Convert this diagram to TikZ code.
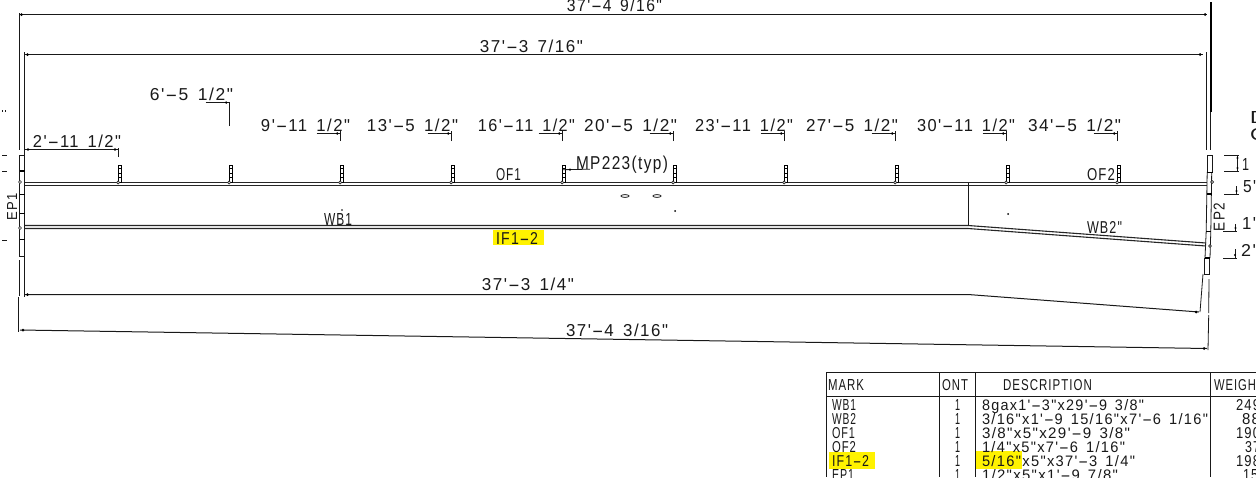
\documentclass[tikz,border=0pt]{standalone}
\usepackage{fontspec}
\usepackage{graphicx}
\newfontfamily\cad[LetterSpace=9]{Liberation Sans}
\newcommand{\hy}{\kern0.05em\scalebox{2.1}[1]{-}\kern0.05em}
\newcommand{\gp}{\hspace{0.55em}}
\tikzset{
  x=1pt,y=-1pt,
  ink/.style={draw=black!90,line width=0.8pt},
  heavy/.style={draw=black,line width=2pt},
  dimline/.style={draw=black!90,line width=1pt},
  member/.style={draw=black!85,line width=1.1pt},
  tabline/.style={draw=black!90,line width=0.85pt},
  txt/.style={inner sep=0pt,outer sep=0pt,anchor=base,text=black!90},
  hilite/.style={fill=yellow,draw=none},
  dotm/.style={fill=black,draw=none},
  ringm/.style={draw=black!85,line width=0.7pt,fill=white},
}
% \lbl{name}{x1}{x2}{y centre}{height}{text}
\newcommand{\lbl}[6]{%
  \pgfmathsetmacro{\lw}{#3-(#2)}\pgfmathsetmacro{\lx}{(#2+#3)/2}\pgfmathsetmacro{\ly}{#4+#5/2}%
  \node[txt] (#1) at (\lx,\ly) {\resizebox{\lw pt}{#5pt}{\cad #6}};}
\begin{document}
\begin{tikzpicture}
\useasboundingbox (0,0) rectangle (1256,477);
\clip (0,0) rectangle (1256,477);
\fill[white] (0,0) rectangle (1256,477);
% key coordinates
\coordinate (tl) at (19.5,14.5); \coordinate (tr) at (1207,14.5);
\coordinate (sl) at (24.5,54.5); \coordinate (sr) at (1203,54.5);
\coordinate (il) at (24.5,294.5); \coordinate (ik) at (968,294.5); \coordinate (ir) at (1199,312);
\coordinate (bl) at (20,330); \coordinate (br) at (1207,348.5);
% highlights
\fill[hilite] (493,229.5) rectangle (544,244.5);
\fill[hilite] (829,452) rectangle (875,469);
\fill[hilite] (976,451) rectangle (1022,469);
% overall dimension lines
\draw[dimline] (tl) -- (tr);
\draw[dimline] (sl) -- (sr);
\draw[dimline] (il) -- (ik) -- (ir);
\draw[dimline] (bl) -- (br);
\foreach \p/\dx in {tl/2,tr/-2,sl/3,sr/-3,il/3,ir/-3,bl/3,br/-3}{\fill[dotm] ([xshift=\dx pt]\p) circle (1.5);}
% extension lines, left
\draw[ink] (19.5,13) -- (19.5,150);
\draw[ink] (24.5,52) -- (24.5,297);
\draw[ink] (19.5,260) -- (19.5,296);
\draw[ink] (18.5,297) -- (18.5,332);
% extension lines, right
\draw[heavy] (1210.5,2) -- (1210.5,112);
\draw[ink] (1210.5,112) -- (1210.5,150);
\draw[ink] (1206.5,52) -- (1206.5,150);
\draw[ink] (1209,279) -- (1208.7,313);
\draw[ink] (1208.7,315) -- (1208,350);
\draw[ink] (1203,274) -- (1200,312);
% left end plate
\draw[ink] (19.5,155) rectangle (24.5,256);
\foreach \y/\w in {171/1.8,194/0.9,213/0.9,239/0.9}{\draw[draw=black,line width=\w pt] (19.5,\y) -- (24.5,\y);}
\foreach \y in {182,228}{\draw[ringm] (20,\y) circle (1.5);}
\foreach \y in {155,171,240}{\draw[ink] (2,\y) -- (7,\y);}
\draw[ink] (2.5,110) -- (2.5,112); \draw[ink] (5,110) -- (5,112);
% right end plate
\draw[ink] (1207.3,155) rectangle (1212.7,172);
\draw[ink] (1207.2,172) -- (1206.2,231) -- (1205,258);
\draw[ink] (1211.7,172) -- (1210.8,231) -- (1210,258);
\draw[ink] (1204.5,258) rectangle (1209.8,274.5);
\foreach \a/\b/\y/\w in {1207.2/1212.5/172/0.9,1206.9/1211.5/194/1.8,1205.9/1210.7/231/0.9,1205/1210/258/2}{\draw[draw=black,line width=\w pt] (\a,\y) -- (\b,\y);}
\draw[ringm] (1212,182) circle (1.5);
\draw[ringm] (1210,246) circle (1.3);
% flanges and web
\draw[member] (24.5,182.5) -- (1207,182.5);
\draw[member] (24.5,185.5) -- (1207,185.5);
\draw[member] (24.5,225.5) -- (968,225.5) -- (1206,243);
\draw[member] (24.5,228.5) -- (968,228.5) -- (1206,246);
\draw[ink] (968.5,183) -- (968.5,225);
% stiffeners and their leaders
\foreach \i/\x in {1/118.7,2/229.7,3/340.7,4/451.7,5/562.7,6/673.7,7/784.7,8/895.7,9/1006.7,10/1117.7}{
  \coordinate (s\i) at (\x,183);
  \draw[draw=black,line width=0.9pt] (\x,165.5) rectangle (\x+2.6,182);
  \foreach \yy in {168.5,173,177.5}{\draw[draw=black,line width=1pt] (\x,\yy) -- (\x+2.6,\yy);}
  \draw[ringm] (\x-0.5,182.5) circle (1.5);
}
\foreach \i in {3,4,5,6,7,8,9,10}{
  \draw[ink] ([yshift=42pt]s\i) -- ([yshift=52pt]s\i);
  \draw[ink] ([xshift=-24pt,yshift=49.5pt]s\i) -- ([yshift=49.5pt]s\i);
  \fill[dotm] ([xshift=-3.5pt,yshift=49.5pt]s\i) circle (1.3);
}
\draw[ink] ([yshift=57pt]s2) -- ([yshift=81pt]s2);
\draw[ink] ([xshift=-24pt,yshift=80.5pt]s2) -- ([yshift=80.5pt]s2);
\fill[dotm] ([xshift=-3.5pt,yshift=80.5pt]s2) circle (1.3);
\coordinate (d1) at (25,149.5);
\draw[ink] (d1) -- ([yshift=33.5pt]s1);
\draw[ink] ([yshift=26pt]s1) -- ([yshift=35pt]s1);
\fill[dotm] (28,149.5) circle (1.4); \fill[dotm] (115,149.5) circle (1.4);
\draw[ink] (563,169.7) -- (590,169.2); \fill[dotm] (570,169.6) circle (1.3);
% small holes and dots
\draw[ink] (625,196) ellipse (4 and 1.4);
\draw[ink] (657,196) ellipse (4 and 1.4);
\fill[dotm] (675,211) circle (1);
\fill[dotm] (1008,214) circle (1);
\fill[dotm] (342,210) circle (0.8);
% right-hand dimension marks
\draw[ink] (1224,155) -- (1239,155); \draw[ink] (1224,171) -- (1239,171);
\draw[ink] (1237.5,155) -- (1237.5,171); \fill[dotm] (1237.5,158) circle (1.2); \fill[dotm] (1237.5,168) circle (1.2);
\draw[ink] (1224,194) -- (1239,194); \draw[ink] (1236.5,186) -- (1236.5,194); \fill[dotm] (1236.5,191) circle (1.2);
\draw[ink] (1223,231) -- (1237,231); \draw[ink] (1235.5,224) -- (1235.5,231); \fill[dotm] (1235.5,228) circle (1.2);
\draw[ink] (1223,258) -- (1237,258); \draw[ink] (1235,249) -- (1235,258); \fill[dotm] (1235,255) circle (1.2);
% drawing texts
\lbl{t1}{567}{662}{5}{12.5}{37'\hy 4\gp 9/16"}
\lbl{t2}{480}{583}{46}{12.5}{37'\hy 3\gp 7/16"}
\lbl{t3}{482}{574}{284}{12.5}{37'\hy 3\gp 1/4"}
\lbl{t4}{566}{668}{330}{12.5}{37'\hy 4\gp 3/16"}
\lbl{a1}{33}{121}{141}{12.5}{2'\hy 11\gp 1/2"}
\lbl{a2}{150}{233}{94}{12.5}{6'\hy 5\gp 1/2"}
\lbl{a3}{261}{350}{125}{12.5}{9'\hy 11\gp 1/2"}
\lbl{a4}{367}{458}{125}{12.5}{13'\hy 5\gp 1/2"}
\lbl{a5}{478}{575}{125}{12.5}{16'\hy 11\gp 1/2"}
\lbl{a6}{584}{677}{125}{12.5}{20'\hy 5\gp 1/2"}
\lbl{a7}{695}{793}{125}{12.5}{23'\hy 11\gp 1/2"}
\lbl{a8}{806}{898}{125}{12.5}{27'\hy 5\gp 1/2"}
\lbl{a9}{917}{1015}{125}{12.5}{30'\hy 11\gp 1/2"}
\lbl{a10}{1028}{1121}{125}{12.5}{34'\hy 5\gp 1/2"}
\lbl{mp}{576}{668}{163}{13.5}{MP223(typ)}
\lbl{of1}{496}{521}{174}{12}{OF1}
\lbl{of2}{1087}{1115}{174}{12}{OF2}
\lbl{wb1}{324}{352}{219}{12}{WB1}
\lbl{wb2}{1087}{1122}{227}{12}{WB2"}
\lbl{if}{496}{538}{238}{12}{IF1\hy 2}
\node[txt,anchor=center,rotate=90] (ep1) at (12,207) {\resizebox{27pt}{10pt}{\cad EP1}};
\node[txt,anchor=center,rotate=90] (ep2) at (1219,217) {\resizebox{28pt}{11pt}{\cad EP2}};
% clipped texts at the right edge
\lbl{r0}{1250}{1266}{117}{12}{D}
\lbl{r00}{1250}{1266}{134}{12}{C}
\lbl{r1}{1242}{1249}{164}{12}{1}
\lbl{r2}{1243}{1256}{186}{12}{5'}
\lbl{r3}{1242}{1256}{223}{12}{1'}
\lbl{r4}{1241}{1256}{250}{12}{2'}
% table
\draw[tabline] (1256,372.5) -- (826,372.5) -- (826,477);
\draw[tabline] (826,396) -- (1256,396);
\foreach \x in {939,975.7,1210.7}{\draw[tabline] (\x,372.5) -- (\x,477);}
\lbl{h1}{828}{864}{385}{11}{MARK}
\lbl{h2}{942}{968}{385}{11}{ONT}
\lbl{h3}{1003}{1092}{385}{11}{DESCRIPTION}
\lbl{h4}{1214}{1256}{385}{11}{WEIGH}
\foreach \i/\y/\m/\mx/\d/\dx/\wa/\wb/\w in {
 1/405/WB1/856/{8gax1'\hy 3"x29'\hy 9\gp 3/8"}/1144/1236/1260/249,
 2/418.5/WB2/856/{3/16"x1'\hy 9\gp 15/16"x7'\hy 6\gp 1/16"}/1208/1242/1260/88,
 3/432.5/OF1/855/{3/8"x5"x29'\hy 9\gp 3/8"}/1130/1236/1260/190,
 4/446.5/OF2/856/{1/4"x5"x7'\hy 6\gp 1/16"}/1125/1245/1260/37,
 5/461/IF1\hy 2/869/{5/16"x5"x37'\hy 3\gp 1/4"}/1135/1236/1260/198,
 6/475/EP1/854/{1/2"x5"x1'\hy 9\gp 7/8"}/1118/1243/1258/15}{
  \lbl{m\i}{832}{\mx}{\y}{11}{\m}
  \lbl{q\i}{955}{960}{\y}{11}{1}
  \lbl{e\i}{982}{\dx}{\y}{11}{\d}
  \lbl{w\i}{\wa}{\wb}{\y}{11}{\w}
}
\end{tikzpicture}
\end{document}
